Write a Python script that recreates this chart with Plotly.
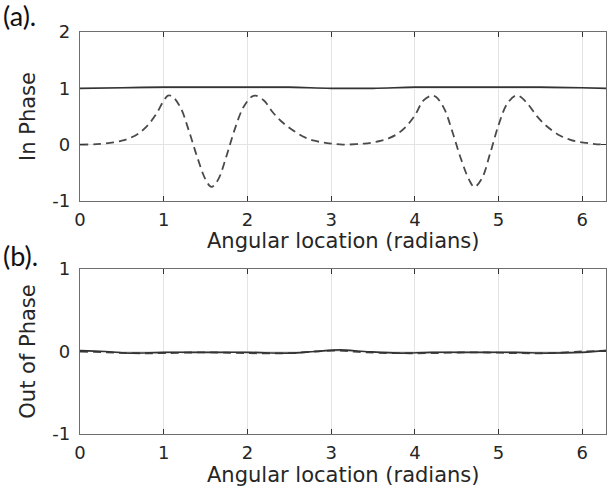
import plotly.graph_objects as go

# ---------------- data ----------------
x_in_dash = [0.0, 0.2, 0.4, 0.5, 0.6, 0.7, 0.8, 0.9, 1.0, 1.05, 1.1, 1.2, 1.3, 1.4, 1.5, 1.57,
             1.65, 1.75, 1.85, 1.95, 2.05, 2.1, 2.2, 2.3, 2.4, 2.5, 2.6, 2.7, 2.8, 2.9, 3.0, 3.14,
             3.3, 3.4, 3.5, 3.6, 3.7, 3.8, 3.9, 4.0, 4.1, 4.2, 4.25, 4.35, 4.45, 4.55, 4.65, 4.71,
             4.8, 4.9, 5.0, 5.1, 5.2, 5.25, 5.35, 5.45, 5.55, 5.65, 5.75, 5.85, 5.95, 6.05, 6.15, 6.283]
y_in_dash = [0.0, 0.01, 0.04, 0.07, 0.12, 0.2, 0.33, 0.52, 0.78, 0.87, 0.86, 0.66, 0.25, -0.22, -0.62, -0.75,
             -0.62, -0.2, 0.28, 0.66, 0.85, 0.87, 0.78, 0.58, 0.42, 0.3, 0.2, 0.12, 0.07, 0.04, 0.02, 0.0,
             0.01, 0.02, 0.04, 0.07, 0.12, 0.2, 0.33, 0.52, 0.78, 0.87, 0.85, 0.64, 0.22, -0.25, -0.63, -0.75,
             -0.6, -0.15, 0.35, 0.72, 0.87, 0.86, 0.72, 0.52, 0.36, 0.24, 0.15, 0.09, 0.05, 0.03, 0.01, 0.0]

x_in_solid = [0.0, 0.5, 1.0, 1.5, 2.0, 2.5, 3.0, 3.5, 4.0, 4.5, 5.0, 5.5, 6.0, 6.283]
y_in_solid = [1.0, 1.01, 1.02, 1.02, 1.02, 1.02, 1.0, 1.0, 1.02, 1.02, 1.02, 1.02, 1.01, 1.0]

x_out = [0.0, 0.3, 0.6, 1.0, 1.5, 2.0, 2.5, 2.8, 3.1, 3.4, 3.8, 4.2, 4.7, 5.2, 5.6, 6.0, 6.283]
y_out_solid = [0.01, 0.0, -0.02, -0.01, -0.01, -0.01, -0.02, 0.0, 0.02, 0.0, -0.02, -0.01, -0.01, -0.01, -0.02, -0.01, 0.01]
y_out_dash = [0.0, -0.01, -0.02, -0.02, -0.01, -0.02, -0.02, 0.0, 0.01, -0.01, -0.02, -0.02, -0.01, -0.02, -0.02, 0.0, 0.01]

x_ticks = [0, 1, 2, 3, 4, 5, 6]
y_ticks_a = [-1, 0, 1, 2]
y_ticks_b = [-1, 0, 1]

x_title = "Angular location (radians)"
y_title_a = "In Phase"
y_title_b = "Out of Phase"

# ---------------- figure ----------------
W, H = 610, 487
ML, MR, MT, MB = 80, 4, 32, 53
plot_h = H - MT - MB
a_top, a_bot = 32, 201
b_top, b_bot = 269, 434

def py(pix):
    return (H - MB - pix) / plot_h

fig = go.Figure()
solid_col = "#333333"
dash_col = "#4a4a4a"
dash_pat = "8px,5px"

fig.add_trace(go.Scatter(x=x_in_solid, y=y_in_solid, mode="lines", line=dict(color=solid_col, width=1.7, shape="spline"),
                         xaxis="x", yaxis="y", showlegend=False))
fig.add_trace(go.Scatter(x=x_in_dash, y=y_in_dash, mode="lines", line=dict(color=dash_col, width=1.8, dash=dash_pat, shape="spline"),
                         xaxis="x", yaxis="y", showlegend=False))
fig.add_trace(go.Scatter(x=x_out, y=y_out_dash, mode="lines", line=dict(color=dash_col, width=1.8, dash=dash_pat, shape="spline"),
                         xaxis="x2", yaxis="y2", showlegend=False))
fig.add_trace(go.Scatter(x=x_out, y=y_out_solid, mode="lines", line=dict(color=solid_col, width=1.7, shape="spline"),
                         xaxis="x2", yaxis="y2", showlegend=False))

font_main = "DejaVu Sans"
txt_col = "#262626"
axis_common = dict(
    showline=True, linecolor="#6e6e6e", linewidth=1.2, mirror="ticks",
    ticks="inside", ticklen=5, tickcolor="#333333", tickwidth=1,
    showgrid=True, gridcolor="#e3e3e3", gridwidth=1, zeroline=False,
    automargin=False,
    tickfont=dict(family=font_main, size=18, color=txt_col),
)

def lab(v):
    return [str(t) for t in v]

fig.update_layout(
    template="none",
    width=W, height=H,
    margin=dict(l=ML, r=MR, t=MT, b=MB),
    paper_bgcolor="white", plot_bgcolor="white",
    font=dict(family=font_main),
    xaxis=dict(domain=[0, 1], anchor="y", range=[0, 6.283], tickvals=x_ticks, ticktext=lab(x_ticks),
               ticklabelstandoff=2, **axis_common),
    yaxis=dict(domain=[py(a_bot), py(a_top)], anchor="x", range=[-1, 2], tickvals=y_ticks_a, ticktext=lab(y_ticks_a),
               ticklabelstandoff=5,
               title=dict(text=y_title_a, font=dict(family=font_main, size=21, color=txt_col), standoff=10),
               **axis_common),
    xaxis2=dict(domain=[0, 1], anchor="y2", range=[0, 6.283], tickvals=x_ticks, ticktext=lab(x_ticks),
                ticklabelstandoff=2, **axis_common),
    yaxis2=dict(domain=[py(b_bot), py(b_top)], anchor="x2", range=[-1, 1], tickvals=y_ticks_b, ticktext=lab(y_ticks_b),
                ticklabelstandoff=5,
                title=dict(text=y_title_b, font=dict(family=font_main, size=21, color=txt_col), standoff=10),
                **axis_common),
    annotations=[
        dict(text=x_title, xref="paper", yref="paper", x=0.5, y=py(241), xanchor="center", yanchor="middle",
             showarrow=False, font=dict(family=font_main, size=21, color=txt_col)),
        dict(text=x_title, xref="paper", yref="paper", x=0.5, y=py(475), xanchor="center", yanchor="middle",
             showarrow=False, font=dict(family=font_main, size=21, color=txt_col)),
        dict(text="(a).", xref="paper", yref="paper", x=-(ML - 1) / (W - ML - MR), y=py(16), xanchor="left", yanchor="middle",
             showarrow=False, font=dict(family="Lato", size=27, color="#111111")),
        dict(text="(b).", xref="paper", yref="paper", x=-(ML - 1) / (W - ML - MR), y=py(255), xanchor="left", yanchor="middle",
             showarrow=False, font=dict(family="Lato", size=27, color="#111111")),
    ],
)

fig.write_html("out.html")
